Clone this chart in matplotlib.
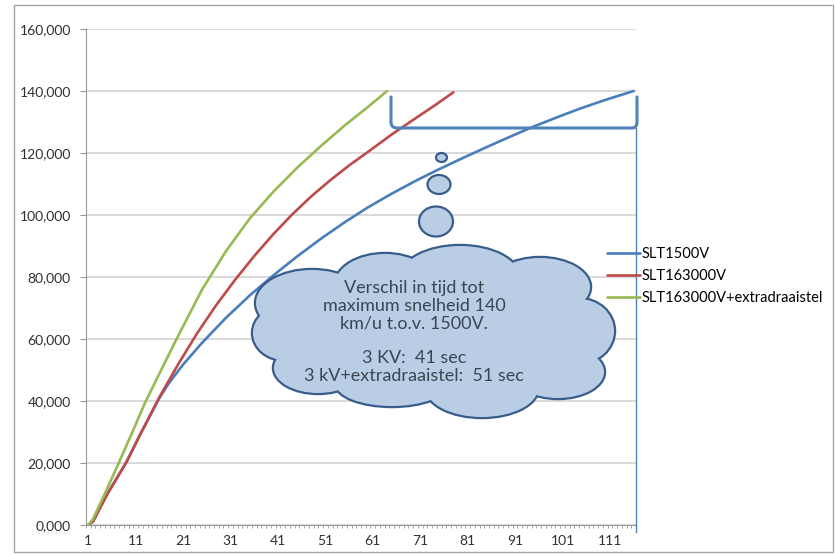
import matplotlib
matplotlib.use("Agg")
import matplotlib.pyplot as plt
from matplotlib.patches import Ellipse, Rectangle, PathPatch
from matplotlib.path import Path
from matplotlib.ticker import FuncFormatter, FixedLocator

plt.rcParams['font.family'] = ['Lato', 'DejaVu Sans']

# tijd (sec) en snelheid (km/u)
t_1500 = [1, 2, 5, 9, 12, 16, 18, 21, 25, 30, 35, 40, 45, 50, 55, 60, 65, 70,
          75, 80, 85, 90, 95, 100, 105, 110, 116]
v_1500 = [0, 1.2, 10, 20.2, 29.4, 41, 45.8, 51.8, 58.8, 66.8, 74, 80.5, 86.6,
          92.3, 97.6, 102.5, 106.9, 111, 114.8, 118.4, 121.9, 125.3, 128.6,
          131.6, 134.5, 137.1, 140]

t_3000 = [1, 2, 5, 9, 12, 16, 20, 24, 28, 32, 36, 40, 44, 48, 52, 56, 60, 65,
          70, 74, 78]
v_3000 = [0, 1.2, 10, 20.2, 29.4, 41.3, 52, 62, 71, 79.2, 86.8, 93.8, 100.2,
          106, 111.2, 116, 120.4, 126, 131.2, 135.3, 139.6]

t_extra = [1, 2, 4, 7, 10, 13, 16, 20, 25, 30, 35, 40, 45, 50, 55, 60, 64]
v_extra = [0, 2, 8.5, 18.6, 29, 39.6, 48.9, 61.2, 76, 88.3, 98.8, 107.5,
           115.2, 122.2, 128.8, 134.9, 140]

series_names = ['SLT1500V', 'SLT163000V', 'SLT163000V+extradraaistel']
series_colors = ['#4A7EBB', '#BE4B48', '#98B954']

n_cat = 116
x_labels = list(range(1, 112, 10))
y_ticks = list(range(0, 161, 20))

W, H = 835, 555
fig = plt.figure(figsize=(W / 100, H / 100), dpi=100)
ax = fig.add_axes([86 / W, 30 / H, 550 / W, 496 / H])

lines = []
for tt, vv, c in zip([t_1500, t_3000, t_extra], [v_1500, v_3000, v_extra],
                     series_colors):
    l, = ax.plot(tt, vv, color=c, lw=1.9, solid_capstyle='round',
                 solid_joinstyle='round', zorder=3)
    lines.append(l)

ax.set_xlim(0.5, n_cat + 0.5)
ax.set_ylim(0, 160)
ax.set_yticks(y_ticks)
ax.yaxis.set_major_formatter(FuncFormatter(lambda v, p: f"{v:.3f}".replace('.', ',')))
ax.set_xticks(x_labels)
ax.set_xticklabels([str(x) for x in x_labels])
ax.xaxis.set_minor_locator(FixedLocator([k + 0.5 for k in range(n_cat + 1)]))

ax.grid(axis='y', color='#cfcfcf', lw=1.1)
ax.set_axisbelow(True)
for s in ['top', 'right']:
    ax.spines[s].set_visible(False)
for s in ['left', 'bottom']:
    ax.spines[s].set_color('#9a9a9a')
ax.tick_params(axis='y', length=4.3, color='#9a9a9a', pad=6.5,
               labelsize=10, labelcolor='#303030')
ax.tick_params(axis='x', which='major', length=0, pad=7.5,
               labelsize=10, labelcolor='#303030')
ax.tick_params(axis='x', which='minor', length=2.5, color='#9a9a9a')

fig.legend(lines, series_names, loc='upper left',
           bbox_to_anchor=(607 / W, 1 - 247 / H), frameon=False,
           fontsize=10.5, handlelength=2.25, handletextpad=0.15,
           borderpad=0, borderaxespad=0, labelspacing=0.55)

# overlay in pixels voor de tekeningen
ov = fig.add_axes([0, 0, 1, 1], zorder=5)
ov.set_xlim(0, W)
ov.set_ylim(H, 0)
ov.axis('off')
ov.patch.set_alpha(0)

ov.add_patch(Rectangle((14, 5), 819, 547, fill=False, ec='#a6a6a6', lw=1))

# accolade boven
edge = '#4F81BD'
verts = [(391, 97), (391, 122), (391, 128), (397, 128), (632, 128),
         (637, 128), (637, 122), (637, 97)]
codes = [Path.MOVETO, Path.LINETO, Path.CURVE3, Path.CURVE3, Path.LINETO,
         Path.CURVE3, Path.CURVE3, Path.LINETO]
ov.add_patch(PathPatch(Path(verts, codes), fill=False, ec=edge, lw=2.2,
                       capstyle='round'))
ov.plot([636, 636], [128, 532], color=edge, lw=1.0)

# wolk
cloud_edge = '#385D8A'
cloud_fill = '#B9CDE5'
blobs = [(312, 303, 112, 66), (385, 285, 100, 62), (460, 277, 118, 62),
         (540, 287, 100, 58), (579, 331, 70, 64), (558, 372, 92, 52),
         (482, 388, 112, 58), (392, 384, 112, 44), (318, 368, 88, 50),
         (285, 333, 64, 54), (435, 333, 290, 110)]
for cx, cy, w, h in blobs:
    ov.add_patch(Ellipse((cx, cy), w, h, fc=cloud_fill, ec=cloud_edge,
                         lw=3.2, zorder=1))
for cx, cy, w, h in blobs:
    ov.add_patch(Ellipse((cx, cy), w, h, fc=cloud_fill, ec='none', zorder=2))

for cx, cy, w, h in [(441.5, 157.5, 11, 9), (439, 184.5, 23, 19),
                     (436, 221.5, 34, 30)]:
    ov.add_patch(Ellipse((cx, cy), w, h, fc=cloud_fill, ec=cloud_edge,
                         lw=1.6, zorder=2))

ov.text(414, 332, "Verschil in tijd tot\nmaximum snelheid 140\nkm/u t.o.v. 1500V.\n\n"
        "3 KV:  41 sec\n3 kV+extradraaistel:  51 sec",
        ha='center', va='center', multialignment='center', fontsize=13,
        linespacing=1.12, color='#3a4652', zorder=3)

fig.savefig('out.png', dpi=100)
